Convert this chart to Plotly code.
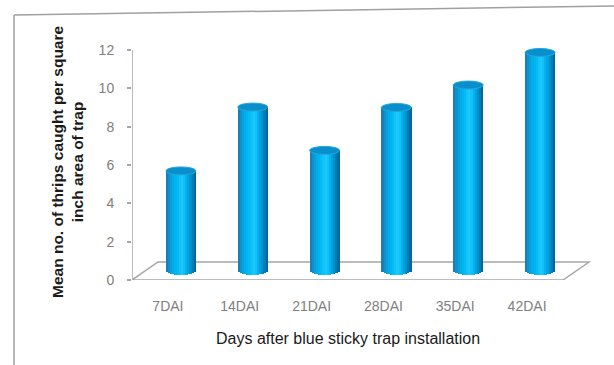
import plotly.graph_objects as go

# Mean thrips caught per square inch of blue sticky trap
categories = ["7DAI", "14DAI", "21DAI", "28DAI", "35DAI", "42DAI"]
mean_thrips = [5.22, 8.55, 6.29, 8.53, 9.70, 11.40]
y_ticks = [0, 2, 4, 6, 8, 10, 12]

# Pixel geometry of the plotting box
W, H = 614, 365
L, R, T, B = 132, 600, 40, 280          # plot area in pixels
PX_X = 71.83                            # pixels per category
PX_Y = 19.17                            # pixels per unit of y
x_min = -0.5
x_max = x_min + (R - L) / PX_X
y_max = (B - T) / PX_Y

# pseudo-3D depth (floor) and cylinder sizes, in data units
depth_x = 26 / PX_X
depth_y = 18 / PX_Y
mid_x = depth_x / 2
mid_y = depth_y / 2
bar_w = 30 / PX_X
cap_h = 4 / PX_Y

# shading across the cylinder, left to right
stripe_colors = [
    "#1a7fb6", "#1091cc", "#07a2de", "#02ade9", "#00b4f0", "#05bbf5",
    "#12c3fa", "#1cc8fd", "#14c0f8", "#06b2ee", "#00a2df", "#0090cc",
    "#007db6", "#006a9c",
]
n = len(stripe_colors)

fig = go.Figure()
xs = [i + mid_x for i in range(len(categories))]
for k, col in enumerate(stripe_colors):
    u = -1 + (2 * k + 1) / n
    curve = cap_h * (1 - u * u) ** 0.5
    base = mid_y - curve
    fig.add_trace(go.Bar(
        x=xs,
        y=[v + curve for v in mean_thrips],
        base=[base] * len(xs),
        width=[bar_w / n * 1.08] * len(xs),
        offset=[-bar_w / 2 + k * bar_w / n] * len(xs),
        marker=dict(color=col, line=dict(width=0)),
        showlegend=False,
        hoverinfo="skip",
    ))

shapes = []
# floor parallelogram
x0f, x1f = x_min, 5.5
shapes.append(dict(
    type="path", xref="x", yref="y", layer="below",
    path=(f"M {x0f},0 L {x1f},0 L {x1f + depth_x},{depth_y} "
          f"L {x0f + depth_x},{depth_y} Z"),
    line=dict(color="#a6a6a6", width=1.5), fillcolor="rgba(0,0,0,0)",
))
# value axis line
shapes.append(dict(type="line", xref="x", yref="y", x0=x_min, x1=x_min,
                   y0=0, y1=12, line=dict(color="#a6a6a6", width=1.5)))
# cylinder tops
for x, v in zip(xs, mean_thrips):
    top = v + mid_y
    shapes.append(dict(
        type="circle", xref="x", yref="y",
        x0=x - bar_w / 2, x1=x + bar_w / 2,
        y0=top - cap_h, y1=top + cap_h,
        fillcolor="#0a8fcc", line=dict(color="#1fa9e0", width=1),
    ))


def px_x(p):
    return (p - L) / (R - L)


def px_y(p):
    return (B - p) / (B - T)


# outer frame (top and left edges)
shapes.append(dict(type="line", xref="paper", yref="paper",
                   x0=px_x(14), y0=px_y(15), x1=px_x(614), y1=px_y(6),
                   line=dict(color="#a0a0a0", width=1.5)))
shapes.append(dict(type="line", xref="paper", yref="paper",
                   x0=px_x(14), y0=px_y(15), x1=px_x(14), y1=px_y(365),
                   line=dict(color="#a0a0a0", width=1.5)))

font_family = "Liberation Sans, Arial, sans-serif"
annotations = [
    dict(text="Days after blue sticky trap installation",
         xref="paper", yref="paper", x=px_x(348), y=px_y(338),
         xanchor="center", yanchor="middle", showarrow=False,
         font=dict(family=font_family, size=16, color="#1a1a1a")),
    dict(text="<b>Mean no. of thrips caught per square<br>inch area of trap</b>",
         xref="paper", yref="paper", x=px_x(67), y=px_y(162),
         xanchor="center", yanchor="middle", showarrow=False, textangle=-90,
         font=dict(family=font_family, size=15.5, color="#1a1a1a")),
]

fig.update_layout(
    width=W, height=H,
    margin=dict(l=L, r=W - R, t=T, b=H - B, pad=0),
    paper_bgcolor="white", plot_bgcolor="white",
    barmode="overlay", bargap=0,
    shapes=shapes, annotations=annotations,
    xaxis=dict(
        range=[x_min, x_max], tickvals=list(range(len(categories))),
        ticktext=categories, showgrid=False, zeroline=False, showline=False,
        ticks="", ticklabelstandoff=16,
        tickfont=dict(family=font_family, size=14, color="#808080"),
        fixedrange=True,
    ),
    yaxis=dict(
        range=[0, y_max], tickvals=y_ticks, showgrid=False, zeroline=False,
        showline=False, ticks="outside", ticklen=4, tickwidth=1.5,
        tickcolor="#a6a6a6", ticklabelstandoff=10,
        tickfont=dict(family=font_family, size=14, color="#808080"),
        fixedrange=True,
    ),
)

fig.write_html("out.html")
